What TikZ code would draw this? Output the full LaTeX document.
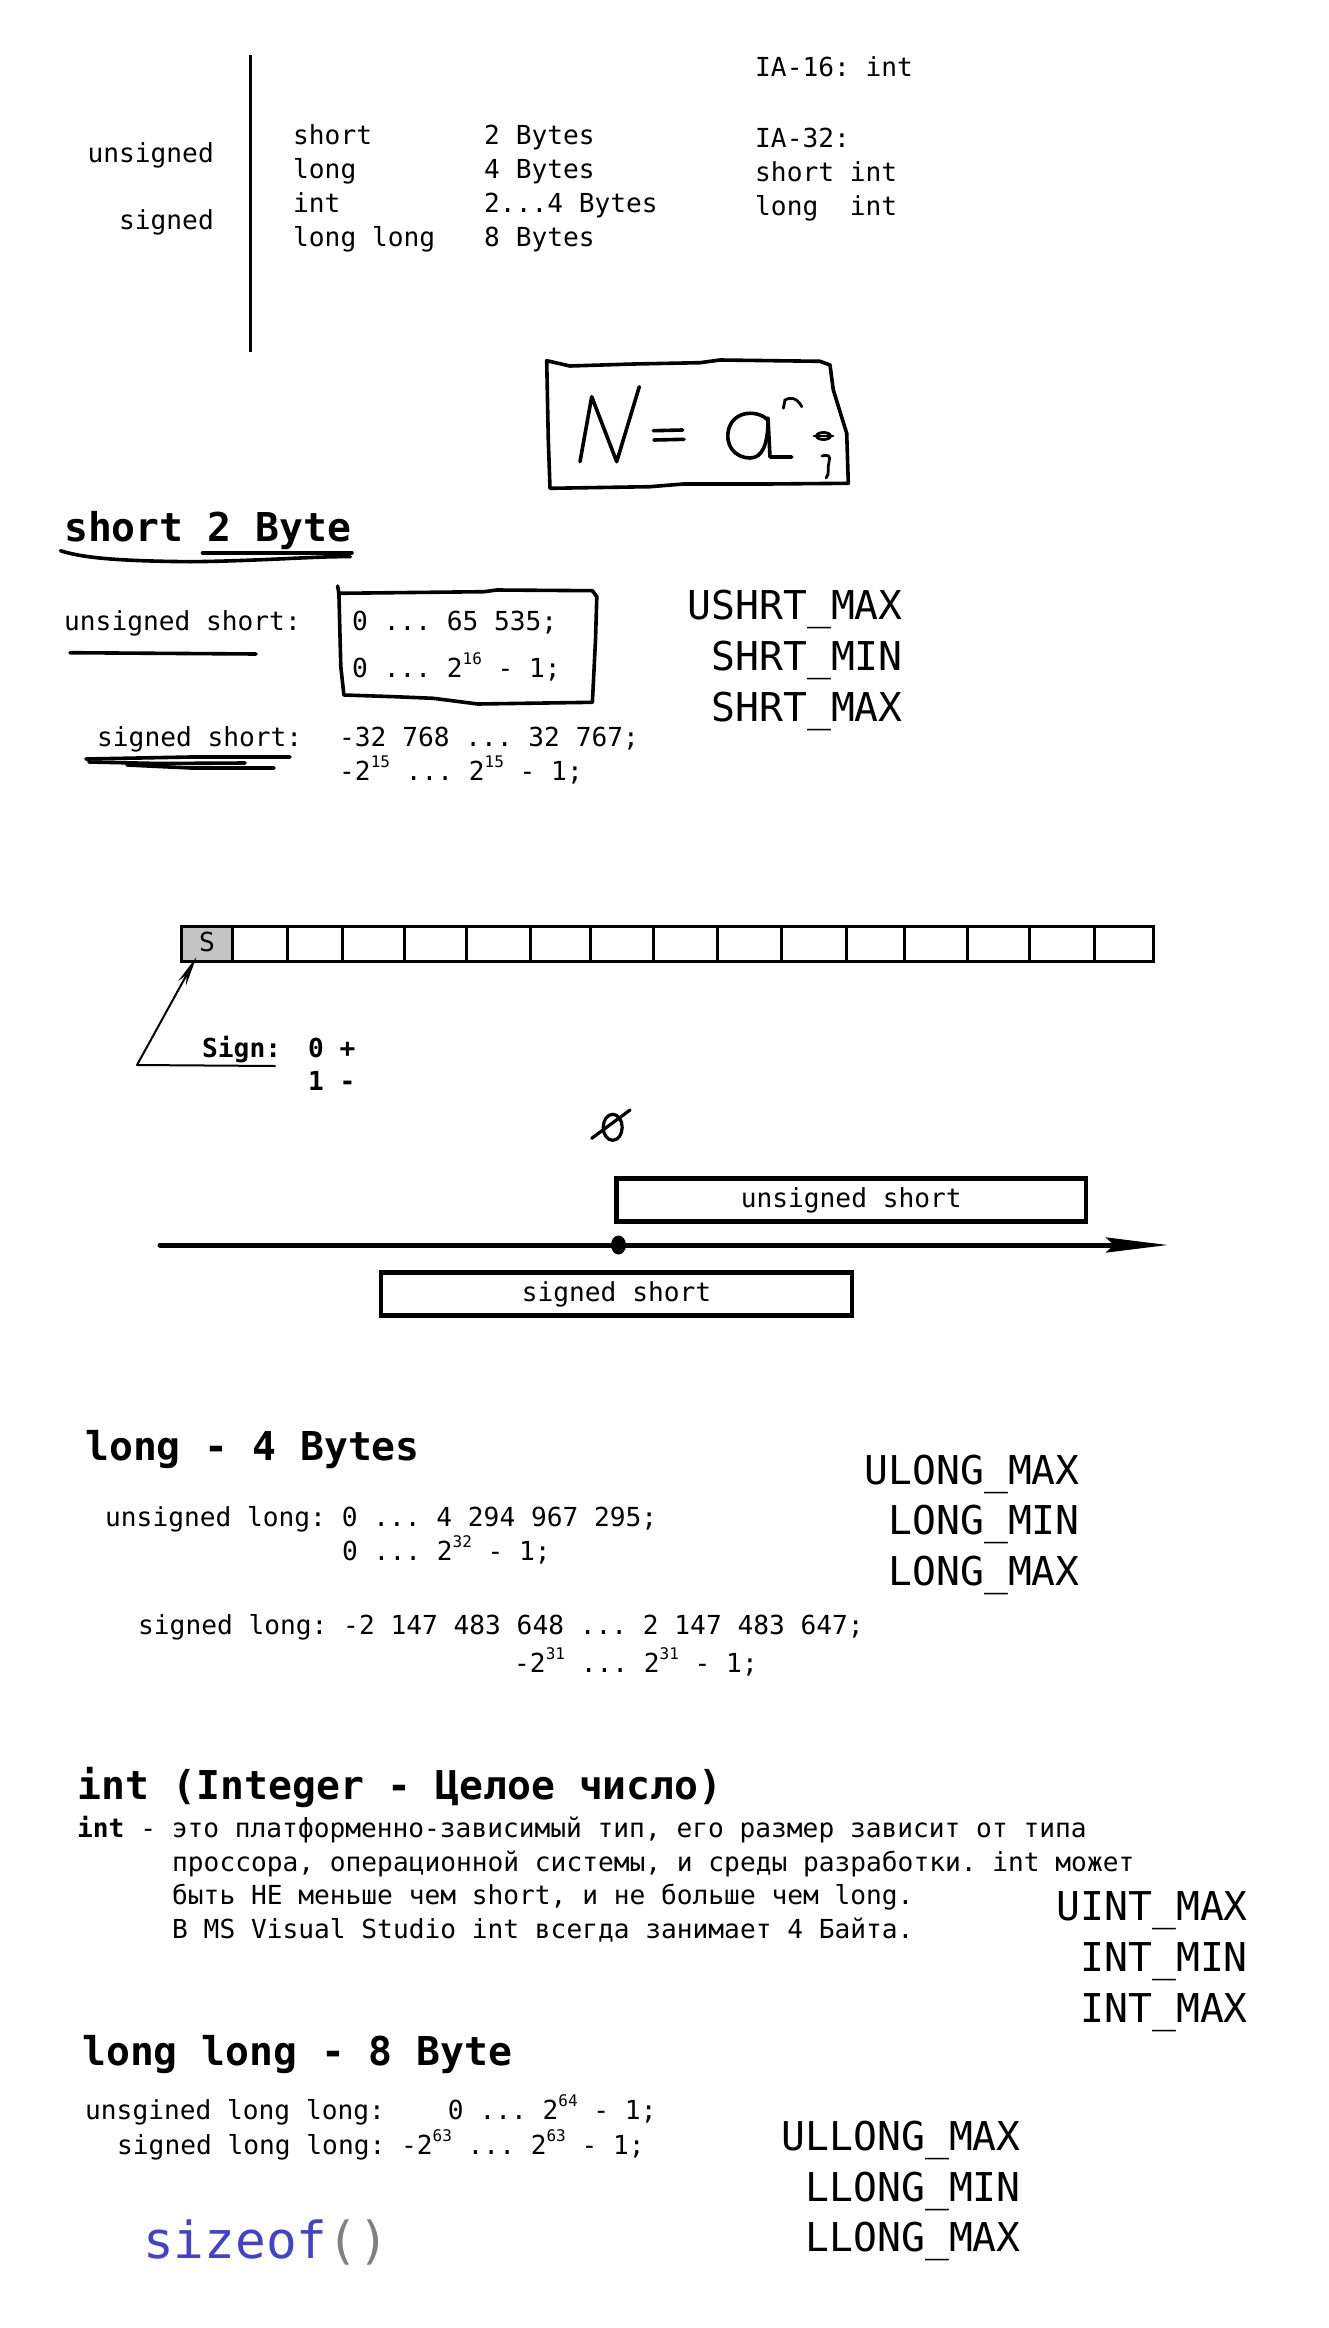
\documentclass[tikz,border=0pt]{standalone}
\usepackage{fontspec}
\usetikzlibrary{arrows.meta}
\newfontfamily\mono{DejaVu Sans Mono}[WordSpace={1,0,0}]
\definecolor{cellgray}{RGB}{196,196,196}
\definecolor{sizeblue}{RGB}{66,66,204}
\definecolor{parengray}{RGB}{128,128,128}
\newcommand\psup[1]{\raisebox{0.5em}{\fontsize{16}{16}\selectfont #1}}
\tikzset{
  txt/.style={font=\frenchspacing\mono\fontsize{26.2}{31}\selectfont, inner sep=0pt, anchor=west, text height=19.6pt, text depth=3.9pt},
  txtb/.style={txt, font=\frenchspacing\mono\bfseries\fontsize{26.2}{31}\selectfont},
  big/.style={font=\frenchspacing\mono\fontsize{39.7}{46}\selectfont, inner sep=0pt, anchor=west, text height=29.8pt, text depth=6pt},
  bigb/.style={big, font=\frenchspacing\mono\bfseries\fontsize{39.7}{46}\selectfont},
  const/.style={big, anchor=east},
  pen/.style={line width=3.6pt, line cap=round, line join=round},
  thinpen/.style={line width=2pt, line cap=round, line join=round},
  rangebox/.style={draw, line width=4.5pt, inner sep=0pt, font=\frenchspacing\mono\fontsize{26.2}{31}\selectfont, text height=19.6pt, text depth=3.9pt},
  cell/.style={line width=3pt},
}
\begin{document}
\begin{tikzpicture}[x=1pt, y=-1pt]
\useasboundingbox[fill=white] (0,0) rectangle (1328,2328);

% ---------- top table ----------
\draw[line width=3pt] (250,55) coordinate (vtop) -- (250,352) coordinate (vbot);
\node[txt, anchor=east] (uns) at (214,155) {unsigned};
\node[txt, anchor=east] (sig) at (214,222) {signed};
\node[txt] (t1) at (293,137) {short};
\node[txt] (t2) at (293,171) {long};
\node[txt] (t3) at (293,205) {int};
\node[txt] (t4) at (293,239) {long long};
\node[txt] (b1) at (484,137) {2 Bytes};
\node[txt] (b2) at (484,171) {4 Bytes};
\node[txt] (b3) at (484,205) {2...4 Bytes};
\node[txt] (b4) at (484,239) {8 Bytes};
\node[txt] (ia16) at (755,69) {IA-16: int};
\node[txt] (ia32) at (755,140) {IA-32:};
\node[txt] (si) at (755,174) {short int};
\node[txt] (li) at (755,208) {long\ \ int};

% ---------- N = a^n box (hand drawn) ----------
\draw[pen] (546.7,360.7) -- (570,366) -- (633.3,364) -- (700,362.7) -- (720,360) -- (820,361.3)
  -- (830,365) -- (833.3,390) -- (846.7,433.3) -- (848.3,483.3) -- (766.7,484) -- (683.3,484)
  -- (650,486.7) -- (550,488.3) -- (548.3,440) -- cycle;
\draw[pen] (580,461.7) -- (591.7,396.7) -- (616.7,461.7) -- (639.3,386.7);
\draw[pen] (653.3,430.7) -- (682.7,430);
\draw[pen] (654,440) -- (684,439.3);
\draw[pen] (768,420) .. controls (758,410) and (735,410) .. (729,428)
  .. controls (724,445) and (735,458) .. (750,458) .. controls (762,458) and (768,445) .. (768,420);
\draw[pen] (768,418) -- (770,457) -- (791.7,457);
\draw[line width=2.8pt, line cap=round] (783.3,408.3) -- (785,400) .. controls (789,397) and (797,397) .. (801.7,406.7);
\draw[line width=2.8pt] (823.5,436) ellipse (7 and 3.5);
\draw[line width=2.8pt, line cap=round] (814,436) -- (833,436);
\draw[line width=2.8pt, line cap=round] (822,456) .. controls (828,454) and (831,456) .. (829,462)
  .. controls (827,468) and (830,474) .. (826,478);

% ---------- short 2 Byte ----------
\node[bigb] (hshort) at (64,530) {short 2 Byte};
\draw[pen] (60.5,550.7) .. controls (80,557) and (110,561) .. (191,561.7)
  .. controls (260,561) and (320,556) .. (350.3,556.7);
\draw[pen] (202.5,552.7) -- (352,552.7);

\node[txt] (ushl) at (64,623) {unsigned short:};
\draw[pen] (70,652.7) -- (256,654);
\node[txt] (usv1) at (352,623) {0 ... 65 535;};
\node[txt] (usv2) at (352,670) {0 ... 2\psup{16} - 1;};
\draw[pen] (337.6,586) -- (338.9,593.3) -- (484,591.7) -- (496.8,590) -- (592.4,590.7) -- (596.8,596.7)
  -- (595.5,640) -- (592.4,702.3) -- (477.7,704) -- (433.1,698.3) -- (394.9,696.7) -- (343.9,695)
  -- (340.8,666.7) -- (338.9,593.3);

\node[const] (c1) at (903,608) {USHRT\_MAX};
\node[const] (c2) at (903,659) {SHRT\_MIN};
\node[const] (c3) at (903,710) {SHRT\_MAX};

\node[txt] (sshl) at (97,739) {signed short:};
\draw[pen] (86,759) -- (191,757) -- (290,757);
\draw[pen] (89,762) -- (159,763.5) -- (245,763);
\draw[pen] (127,765) -- (191,768) -- (274,768);
\node[txt] (ssv1) at (339,739) {-32 768 ... 32 767;};
\node[txt] (ssv2) at (339,773) {-2\psup{15} ... 2\psup{15} - 1;};

% ---------- bit row ----------
\fill[cellgray] (181.5,926.5) rectangle (232.4,961.5);
\draw[cell] (181.5,926.5) rectangle (1153,961.5);
\foreach \xx in {232.4,287.5,342.6,404.4,466.1,530,590.3,653.5,717.4,781.3,846,904,967.2,1029.6,1094.3}
  \draw[cell] (\xx,926.5) -- (\xx,961.5);
\node[txt, anchor=center] (scell) at (207,944) {S};
\coordinate (tip) at (196.5,957);
\coordinate (corner) at (137,1065);
\coordinate (signend) at (275,1066);
\draw[thinpen, -{Stealth[length=30pt,width=9pt]}] (signend) -- (corner) -- (tip);
\node[txtb] (signl) at (202,1050) {Sign:};
\node[txtb] (s0) at (308,1050) {0 +};
\node[txtb] (s1) at (308,1083) {1 -};

% zero symbol
\draw[line width=3.2pt] (612.7,1127.3) ellipse (9.5 and 13);
\draw[line width=3.2pt, line cap=round] (591.7,1138.3) -- (630,1110);

% ---------- number line ----------
\node[rangebox, minimum width=469.5pt, minimum height=43.4pt] (ubox) at (851.25,1200) {unsigned short};
\node[rangebox, minimum width=471pt, minimum height=43.4pt] (sbox) at (616.5,1294) {signed short};
\coordinate (ax0) at (160,1245);
\coordinate (ax1) at (1168,1245);
\draw[line width=5pt, line cap=round, -{Stealth[length=62pt,width=15pt,inset=8pt]}] (ax0) -- (ax1);
\fill (618.5,1245) ellipse (7.5 and 9.5);

% ---------- long ----------
\node[bigb] (hlong) at (85,1449) {long - 4 Bytes};
\node[txt] (ul1) at (105,1519) {unsigned long: 0 ... 4 294 967 295;};
\node[txt] (ul2) at (342,1553) {0 ... 2\psup{32} - 1;};
\node[txt] (sl1) at (138,1627) {signed long: -2 147 483 648 ... 2 147 483 647;};
\node[txt] (sl2) at (514,1665) {-2\psup{31} ... 2\psup{31} - 1;};
\node[const] (l1) at (1080,1473) {ULONG\_MAX};
\node[const] (l2) at (1080,1523) {LONG\_MIN};
\node[const] (l3) at (1080,1574) {LONG\_MAX};

% ---------- int ----------
\node[bigb] (hint) at (77,1788) {int (Integer - Целое число)};
\node[txt] (i1) at (77,1830) {\textbf{int} - это платформенно-зависимый тип, его размер зависит от типа};
\node[txt] (i2) at (172,1864) {проссора, операционной системы, и среды разработки. int может};
\node[txt] (i3) at (172,1897) {быть НЕ меньше чем short, и не больше чем long.};
\node[txt] (i4) at (172,1931) {В MS Visual Studio int всегда занимает 4 Байта.};
\node[const] (n1) at (1248,1909) {UINT\_MAX};
\node[const] (n2) at (1248,1960) {INT\_MIN};
\node[const] (n3) at (1248,2011) {INT\_MAX};

% ---------- long long ----------
\node[bigb] (hll) at (82,2054) {long long - 8 Byte};
\node[txt] (ll1) at (85,2112) {unsgined long long:\ \ \ \ 0 ... 2\psup{64} - 1;};
\node[txt] (ll2) at (117,2147) {signed long long: -2\psup{63} ... 2\psup{63} - 1;};
\node[const] (m1) at (1021,2139) {ULLONG\_MAX};
\node[const] (m2) at (1021,2190) {LLONG\_MIN};
\node[const] (m3) at (1021,2240) {LLONG\_MAX};

\node[font=\mono\fontsize{51}{60}\selectfont, inner sep=0pt, anchor=west, text height=38pt, text depth=8pt] (sz) at (143,2243)
  {\textcolor{sizeblue}{sizeof}\textcolor{parengray}{()}};
\end{tikzpicture}
\end{document}
